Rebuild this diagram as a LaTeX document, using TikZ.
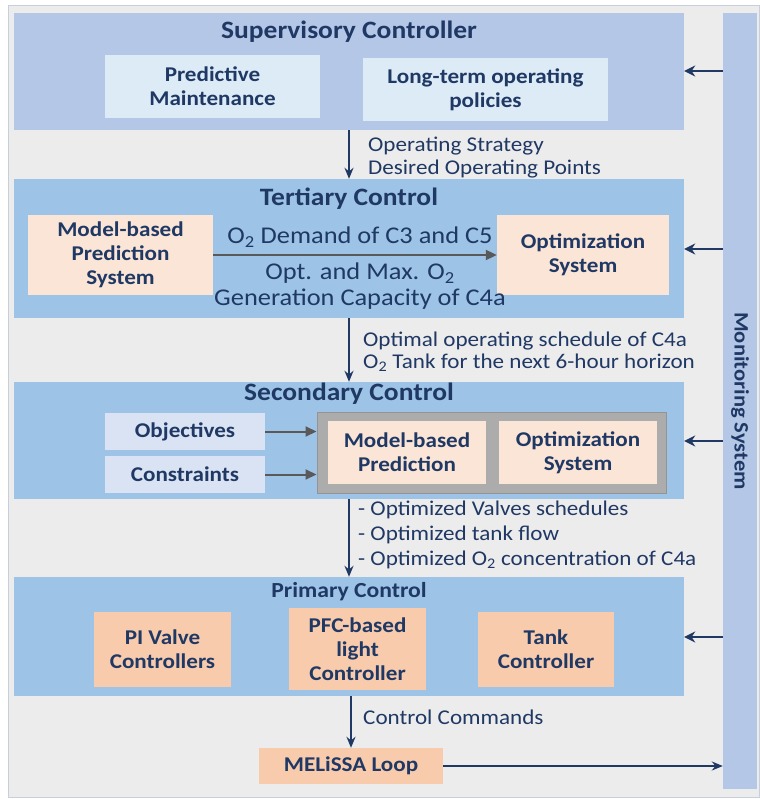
\documentclass[tikz,border=0pt]{standalone}
\usepackage{fontspec}
\setmainfont[FakeStretch=1.1]{Carlito}
\usetikzlibrary{arrows.meta}

\definecolor{supblue}{HTML}{B4C7E7}
\definecolor{layerblue}{HTML}{9DC3E6}
\definecolor{paleblue}{HTML}{DDEBF7}
\definecolor{lavender}{HTML}{DAE3F3}
\definecolor{peach}{HTML}{FBE5D6}
\definecolor{salmon}{HTML}{F8CBAD}
\definecolor{navy}{HTML}{1F3864}
\definecolor{arrowgrey}{HTML}{595959}
\definecolor{bggrey}{HTML}{EDECEC}

\begin{document}
\begin{tikzpicture}[x=1pt, y=-1pt, text=navy,
  layer/.style={fill=#1, minimum width=670pt, inner sep=0pt},
  block/.style={fill=#1, align=center, inner sep=0pt, font=\fontsize{21}{24}\selectfont\bfseries},
  title/.style={font=\fontsize{25}{28}\selectfont\bfseries},
  note/.style={anchor=west, align=left, inner sep=0pt, font=\fontsize{21}{23}\selectfont},
  flow/.style={navy, line width=1.8pt, -{Stealth[length=11pt, width=9pt]}},
  feed/.style={navy, line width=2.6pt, -{Stealth[length=11pt, width=11pt]}},
  link/.style={arrowgrey, line width=2pt, -{Triangle[length=11pt, width=10pt]}}]
\useasboundingbox (0,0) rectangle (759,799);
\draw[fill=bggrey, draw=lavender!80!gray, line width=0.8pt] (8,5) rectangle (759,797);

% layers
\node[layer=supblue,   minimum height=117pt] (sup) at (349,71.5)  {};
\node[layer=layerblue, minimum height=139pt] (ter) at (349,248.5) {};
\node[layer=layerblue, minimum height=117pt] (sec) at (349,440.5) {};
\node[layer=layerblue, minimum height=119pt] (pri) at (349,636.5) {};
\node[fill=supblue, minimum width=34pt, minimum height=776pt, inner sep=0pt] (mon) at (740,401) {};
\node[rotate=-90, font=\fontsize{20.5}{23}\selectfont\bfseries] (monlbl) at (mon.center) {Monitoring System};

% supervisory
\node[title] (suptitle) at (349,32) {Supervisory Controller};
\node[block=paleblue, minimum width=215pt, minimum height=63pt] (predmaint) at (212.5,86.5) {Predictive\\Maintenance};
\node[block=paleblue, minimum width=245pt, minimum height=63pt] (ltpol) at (485.5,89.5) {Long-term operating\\policies};

% tertiary
\node[title] (tertitle) at (349,199) {Tertiary Control};
\node[block=peach, minimum width=185pt, minimum height=80pt] (mbps) at (120.5,255) {Model-based\\Prediction\\System};
\node[block=peach, minimum width=172pt, minimum height=80pt] (optsys) at (583,255) {Optimization\\System};

% secondary
\node[title] (sectitle) at (349,394) {Secondary Control};
\node[block=lavender, minimum width=160pt, minimum height=37pt] (obj) at (185,431.5) {Objectives};
\node[block=lavender, minimum width=160pt, minimum height=37pt] (con) at (185,474.5) {Constraints};
\node[fill=gray!65, draw=gray!85, line width=1pt, minimum width=349pt, minimum height=81pt] (solver) at (491.5,452.5) {};
\node[block=peach, minimum width=158pt, minimum height=63pt] (mbp) at (407,452.5) {Model-based\\Prediction};
\node[block=peach, minimum width=158pt, minimum height=63pt] (opt) at (578,452.5) {Optimization\\System};

% primary
\node[font=\fontsize{21.5}{24}\selectfont\bfseries] (prititle) at (349,592) {Primary Control};
\node[block=salmon, minimum width=137pt, minimum height=75pt] (piv) at (162.5,649.5) {PI Valve\\Controllers};
\node[block=salmon, minimum width=137pt, minimum height=82pt] (pfc) at (357.5,649) {PFC-based\\light\\Controller};
\node[block=salmon, minimum width=136pt, minimum height=75pt] (tank) at (546,649.5) {Tank\\Controller};
\node[block=salmon, minimum width=184pt, minimum height=36pt] (melissa) at (351,766) {MELiSSA Loop};

% labels
\node[note] (strat) at (368,158) {Operating Strategy\\Desired Operating Points};
\node[font=\fontsize{24}{26}\selectfont] (demand) at (360,237) {O\textsubscript{2} Demand of C3 and C5};
\node[font=\fontsize{24}{26}\selectfont, align=center] (capacity) at (360,286) {Opt. and Max. O\textsubscript{2}\\Generation Capacity of C4a};
\node[note, font=\fontsize{21}{22}\selectfont] (sched) at (363,352) {Optimal operating schedule of C4a\\O\textsubscript{2} Tank for the next 6-hour horizon};
\node[note, font=\fontsize{21}{25}\selectfont] (valves) at (358,535) {- Optimized Valves schedules\\- Optimized tank flow\\- Optimized O\textsubscript{2} concentration of C4a};
\node[note] (cmds) at (363,717) {Control Commands};

% arrows
\path[flow] (sup.south) edge (ter.north)
            (ter.south) edge (sec.north)
            (sec.south) edge (pri.north)
            (pri.south -| melissa) edge (melissa.north)
            (melissa.east) edge (melissa.east -| mon.west);
\path[link] (mbps.east) edge (optsys.west)
            (obj.east) edge (obj.east -| solver.west)
            (con.east) edge (con.east -| solver.west);
\path[feed] (mon.west |- 0,71) edge (sup.east |- 0,71)
            (mon.west |- 0,249) edge (ter.east |- 0,249)
            (mon.west |- 0,441) edge (sec.east |- 0,441)
            (mon.west |- 0,637) edge (pri.east |- 0,637);
\end{tikzpicture}
\end{document}
